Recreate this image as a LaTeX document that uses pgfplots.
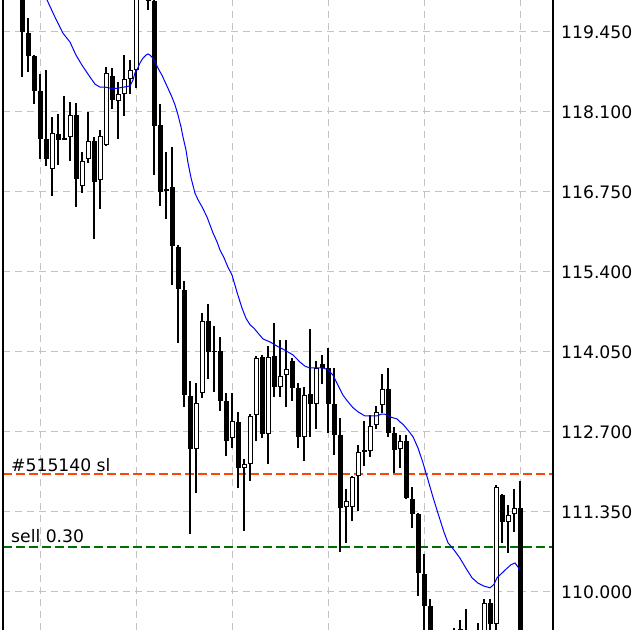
\documentclass[border=0pt]{standalone}
\usepackage{fontspec}
\setmainfont{DejaVu Sans}
\usepackage{pgfplots}
\usepackage{pgfplotstable}
\pgfplotsset{compat=1.18}
\definecolor{gridgray}{RGB}{195,195,195}
\definecolor{slred}{RGB}{255,69,0}
\definecolor{selgreen}{RGB}{0,110,0}
\definecolor{mablue}{RGB}{0,0,255}

\pgfplotstableread{
i o h l c
0 120.33 120.41 118.69 119.45
1 119.44 119.69 118.78 119.05
2 119.05 119.07 118.24 118.45
3 118.45 118.74 117.31 117.64
4 117.64 118.81 117.19 117.31
5 117.14 118.02 116.68 117.75
6 117.73 118.07 117.21 117.63
7 117.66 118.37 117.63 117.63
8 117.68 118.27 117.27 118.05
9 118.05 118.25 116.50 116.97
10 116.85 117.43 116.73 117.27
11 117.31 118.10 117.24 117.61
12 117.61 117.68 115.96 116.92
13 116.95 117.80 116.46 117.70
14 117.54 118.86 117.53 118.76
15 118.71 118.84 118.15 118.30
16 118.29 118.61 117.64 118.40
17 118.40 119.06 118.03 118.66
18 118.66 118.98 118.40 118.81
19 118.81 120.50 118.51 120.33
20 120.33 120.75 120.07 120.58
21 120.24 120.41 119.82 119.97
22 119.97 120.07 117.04 117.86
23 117.88 118.24 116.51 116.75
24 116.80 117.43 116.29 116.77
25 116.83 117.51 115.18 115.84
26 115.82 115.86 114.20 115.11
27 115.10 115.25 113.12 113.32
28 113.31 113.56 110.98 112.41
29 112.41 113.53 111.67 113.19
30 113.36 114.71 113.27 114.57
31 114.57 114.86 113.59 114.05
32 114.07 114.49 113.38 114.05
33 114.07 114.30 113.05 113.22
34 113.22 113.36 112.30 112.55
35 112.60 113.36 112.43 112.89
36 112.87 113.04 111.76 112.09
37 112.09 112.24 111.03 112.16
38 112.16 113.00 111.87 112.97
39 112.99 113.98 112.55 113.95
40 113.97 114.00 112.60 112.67
41 112.67 114.15 112.16 113.97
42 113.98 114.54 113.29 113.46
43 113.46 114.25 113.29 113.65
44 113.66 114.25 113.12 113.76
45 113.90 113.95 113.22 113.44
46 113.44 113.53 112.43 112.62
47 112.62 113.46 112.21 113.32
48 113.34 114.44 112.62 113.17
49 113.17 113.90 112.75 113.78
50 113.85 114.00 113.51 113.78
51 113.78 114.12 112.68 113.17
52 113.17 113.78 112.31 112.65
53 112.65 112.94 110.68 111.42
54 111.43 111.74 110.83 111.54
55 111.43 111.96 111.20 111.94
56 111.96 112.48 111.37 112.36
57 112.38 112.89 112.13 112.37
58 112.38 112.99 112.28 112.80
59 112.82 113.14 112.75 113.04
60 113.16 113.68 113.02 113.43
61 113.43 113.78 112.62 112.68
62 112.68 112.78 112.01 112.40
63 112.41 112.65 112.09 112.55
64 112.55 112.65 111.57 111.59
65 111.57 111.77 111.08 111.32
66 111.32 111.33 109.93 110.32
67 110.30 110.64 109.19 109.76
68 109.76 109.88 108.52 108.85
69 108.85 109.11 108.09 108.35
70 108.35 108.85 108.18 108.68
71 108.68 109.02 108.26 108.52
72 108.52 109.39 108.35 109.11
73 108.85 109.53 108.68 109.38
74 109.19 109.71 108.77 109.02
75 109.02 109.22 108.52 108.77
76 108.77 109.48 108.65 109.11
77 109.11 109.88 108.94 109.81
78 109.81 109.88 109.02 109.46
79 109.46 111.81 109.19 111.77
80 111.64 111.65 110.83 111.18
81 111.18 111.47 110.66 111.30
82 111.32 111.74 111.01 111.42
83 111.42 111.87 108.18 108.35
}\candles

\pgfplotstableread{
x y
3.17 120.33
4.17 119.99
5.5 119.70
6.83 119.43
8.0 119.28
9.0 119.06
10.0 118.89
11.33 118.69
12.17 118.57
13.0 118.52
13.83 118.52
14.83 118.50
15.83 118.50
17.0 118.52
18.0 118.54
18.5 118.64
18.83 118.76
19.17 118.81
19.67 118.93
20.17 119.01
20.67 119.06
21.0 119.08
21.33 119.06
21.83 119.01
22.67 118.84
23.33 118.72
23.83 118.61
24.33 118.50
25.0 118.35
25.5 118.22
26.0 118.05
26.5 117.85
26.83 117.68
27.33 117.46
27.67 117.24
28.17 116.99
28.83 116.73
29.33 116.62
30.0 116.50
30.83 116.33
31.83 116.06
32.5 115.91
33.0 115.77
33.67 115.64
34.33 115.48
35.0 115.35
35.83 115.06
36.67 114.79
37.33 114.62
38.0 114.51
38.67 114.45
39.33 114.37
40.17 114.27
41.33 114.22
42.5 114.15
43.83 114.08
45.17 114.00
46.33 113.88
47.17 113.81
48.0 113.78
49.0 113.78
50.17 113.78
51.0 113.75
51.83 113.66
52.67 113.49
53.5 113.32
54.33 113.21
55.17 113.11
56.0 113.04
57.17 112.97
58.17 112.97
59.17 112.97
59.83 113.00
60.5 113.00
61.5 112.95
62.5 112.92
63.0 112.87
63.5 112.83
64.33 112.73
65.17 112.62
66.0 112.43
66.83 112.18
67.67 111.89
68.5 111.60
69.17 111.38
69.67 111.22
70.33 111.01
71.0 110.83
72.0 110.71
73.0 110.57
74.0 110.40
75.0 110.24
76.0 110.15
77.0 110.10
78.0 110.07
78.67 110.13
79.17 110.24
80.0 110.32
80.83 110.40
81.5 110.46
82.17 110.49
82.67 110.42
83.0 110.36
}\ma

\begin{document}
\begin{tikzpicture}
\begin{axis}[
  scale only axis, width=550bp, height=630bp,
  xmin=-3.1667, xmax=88.5, ymin=109.35875, ymax=119.99,
  axis line style={draw=none},
  xtick={3,19,35,51,67,83}, xticklabels={},
  ytick={110,111.35,112.7,114.05,115.4,116.75,118.1,119.45},
  yticklabels={110.000,111.350,112.700,114.050,115.400,116.750,118.100,119.450},
  yticklabel pos=right,
  major tick length=0pt,
  grid=major,
  major grid style={gridgray, line width=1bp, dash pattern=on 7bp off 5bp},
  tick label style={font=\fontsize{17.2bp}{20bp}\selectfont},
  yticklabel style={anchor=west, inner sep=0pt, xshift=8bp},
  /pgf/number format/assume math mode=true,
]
% order lines
\addplot[slred, line width=1.2bp, dash pattern=on 9bp off 4bp] coordinates {(-3.1667,111.99) (88.5,111.99)};
\addplot[selgreen, line width=1.2bp, dash pattern=on 9bp off 4bp] coordinates {(-3.1667,110.76) (88.5,110.76)};
% wicks
\addplot[draw=none, mark=none, error bars/.cd, y dir=both, y explicit, error mark=none,
  error bar style={draw=black, line width=1.1bp}]
  table[x=i, y expr={(\thisrow{h}+\thisrow{l})/2}, y error expr={(\thisrow{h}-\thisrow{l})/2}] {\candles};
% bodies
\addplot[draw=none, mark=none, error bars/.cd, y dir=both, y explicit, error mark=none,
  error bar style={draw=black, line width=5bp, line cap=butt}]
  table[x=i, y expr={(\thisrow{o}+\thisrow{c})/2}, y error expr={max(abs(\thisrow{o}-\thisrow{c})/2,0.015)}] {\candles};
% hollow interior of rising candles
\addplot[draw=none, mark=none, error bars/.cd, y dir=both, y explicit, error mark=none,
  error bar style={draw=white, line width=3bp, line cap=butt}]
  table[x=i, y expr={(\thisrow{o}+\thisrow{c})/2}, y error expr={max((\thisrow{c}-\thisrow{o})/2-0.017,0)}] {\candles};
% moving average
\addplot[mablue, line width=1bp] table[x=x, y=y] {\ma};
\node[anchor=base west, inner sep=0pt, font=\fontsize{17.2bp}{20bp}\selectfont] at (axis cs:-1.83,112.04) {\#515140 sl};
\node[anchor=base west, inner sep=0pt, font=\fontsize{17.2bp}{20bp}\selectfont] at (axis cs:-1.83,110.84) {sell 0.30};
\end{axis}
\draw[black, line width=1.3bp] (current axis.south west) -- (current axis.north west);
\draw[black, line width=1.3bp] (current axis.south east) -- (current axis.north east);
\pgfresetboundingbox
\useasboundingbox (-3bp,0) rectangle (637bp,630bp);
\end{tikzpicture}
\end{document}
